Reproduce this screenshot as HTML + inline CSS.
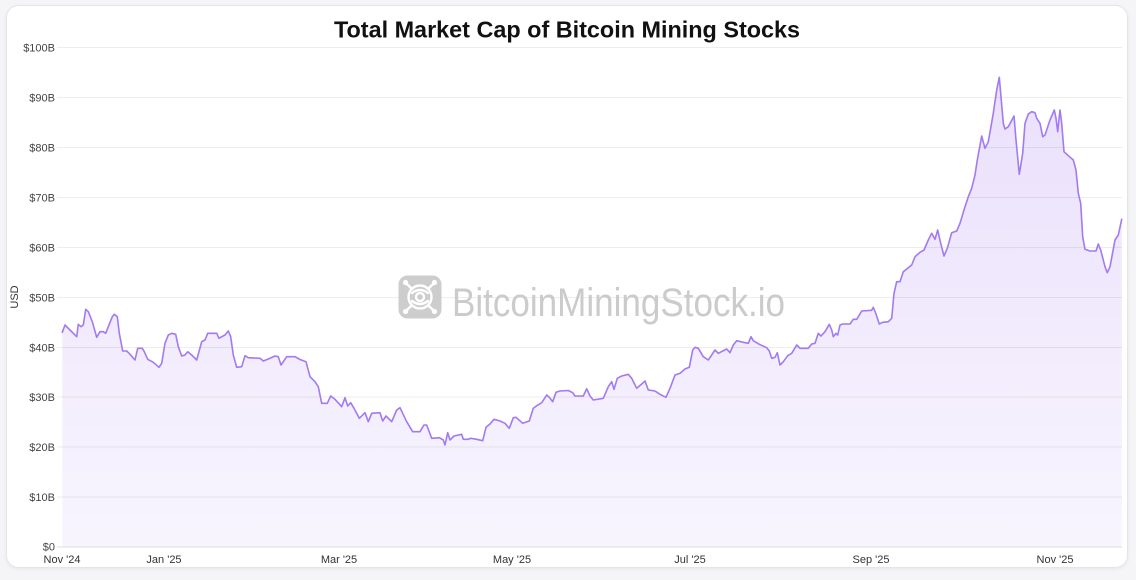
<!DOCTYPE html>
<html><head><meta charset="utf-8"><style>
html,body{margin:0;padding:0;background:#f5f5f7;}
body{width:1136px;height:580px;overflow:hidden;font-family:"Liberation Sans",Arial,sans-serif;}
svg{display:block;}
</style></head><body>
<svg width="1136" height="580" viewBox="0 0 1136 580" xmlns="http://www.w3.org/2000/svg">
<defs>
<linearGradient id="g" gradientUnits="userSpaceOnUse" x1="0" y1="47" x2="0" y2="547">
<stop offset="0" stop-color="#9c6cf0" stop-opacity="0.22"/>
<stop offset="1" stop-color="#9c6cf0" stop-opacity="0.07"/>
</linearGradient>
<filter id="sh" x="-2%" y="-2%" width="104%" height="106%"><feDropShadow dx="0" dy="1" stdDeviation="1.5" flood-color="#000" flood-opacity="0.06"/></filter>
</defs>
<rect x="0" y="0" width="1136" height="580" fill="#f5f5f7"/>
<rect x="6.5" y="5.5" width="1121" height="562" rx="12" fill="#ffffff" stroke="#e4e4ea" filter="url(#sh)"/>
<text x="567" y="37.5" text-anchor="middle" font-family="Liberation Sans, Arial, sans-serif" font-weight="bold" font-size="23.4" fill="#111">Total Market Cap of Bitcoin Mining Stocks</text>

<!-- area -->
<path fill="url(#g)" stroke="none" d="M62.3,546.7 L62.3,332.3 65,325 70,330 76.7,336.7 78.3,324.3 81,326.7 83.3,325 85.7,309.3 88.3,311.7 92.3,321.7 96.7,337.3 100,331.7 103.3,331.7 105.7,333.3 108.3,326.7 112.3,316.7 114.3,314.3 117.3,316.7 119.3,333.3 122.7,351 126.7,351 130,354.3 135,360 137.7,348.3 142.3,348.3 144.3,351.7 147.7,359.3 153.3,362.3 159,367.3 161.7,363.3 165,343.3 168.3,335 171.7,333.3 175.7,334.3 178.3,346.7 181.7,356 185,355 187.7,351.7 191.7,355 196.7,360 201.7,341.7 205,340 207.7,333.3 216.7,333.3 219,338.3 221.7,336.7 225,335 228.3,331 230.7,336.7 233.3,355 236.7,367.3 241.7,366.7 245,355.7 248.3,357.7 260,358.3 263.3,361 268.3,359 275,356 278.3,356.7 281,365 286.7,356.7 295,356.7 300,359.5 306,361.7 310,376.7 315,381.7 318.3,386.7 321.7,403.3 327.3,403.3 330.7,396 335,399.3 341.7,406.7 345,397.7 347.7,406 350.7,402.7 354,408.3 359.3,418.3 365,412.7 368.3,421.7 371.7,413.3 380,412.7 382.7,421 386,416 391.7,421.7 396.7,410 400,407.7 406.7,421.7 412.7,431.7 420,431.7 424,425 426.7,425 431.7,438.3 439.3,437.7 443.3,440 445,445 447.7,432.7 450,440 454,436 461.7,434.3 463.3,439.3 468.3,439.3 470.7,438.3 476.7,439.3 482.7,440.7 486,427.3 490,424 494,419.3 500,421 505,423.3 509.3,428.3 513.3,417.7 516,417.3 522.7,423.3 529.3,421 533.3,408.3 536.7,405.7 541.7,402.7 546.7,395 549.3,397.3 552.7,401.7 556,392.3 560,391 568.3,390.5 572.7,392.7 575,396 583.3,396 586.7,388.7 590,396 593.3,400 603.3,398.3 608.3,386.7 611.7,381.7 614,389.3 617.3,378.3 621.7,376 628.3,374.3 631.7,378.3 636.7,388.3 641.7,384 645,381 648.3,390 655,391 660,394.3 666,397.3 670,388.3 675,375 680,373.3 685,369 689.3,367.3 692.7,350 695,347.3 698.3,348.3 703.3,356.7 708.3,360 711.7,355 715,350 718.3,353.3 726.7,349 730,352.7 733.3,345 736.7,340.7 743.3,342.3 748.3,343.3 751,336.7 753.3,340.7 759.3,344.3 766.7,347.7 769.3,351 771.7,358.3 775,357.3 777.3,352.7 780,365 783.3,361.7 787.7,355.7 791.7,353.3 796.7,345 800,348.3 808.3,348.3 811.7,344 815,343.3 818.3,333.3 821,336 825,331.7 829.3,324.3 831.7,330 833.3,336.7 836,333.3 837.7,335 840,325 842.7,324 850,324 853.3,319.3 856.7,319.3 861.7,311 871.7,310.3 873.3,307.3 876,314 879.3,324 882.7,322.3 888.3,321.7 891.7,318.3 894,293.3 896.7,281.7 900,281.7 903.3,271.7 906.7,269 911.7,265 915,256.7 920,252.3 924,250 928.3,240 931.7,233.3 935,239.3 937.7,230 940.7,243.3 944,256 947.3,248.3 951.7,232.7 956.7,231 960,223.3 965,206.7 968.3,196.7 971.7,188.3 975,175 977.3,160 981.7,136 985,148.3 988.3,141.7 993.3,113.3 996.7,90 999.3,77.3 1000.7,93.3 1003.3,123.3 1005,129 1008.3,126.7 1014,116 1016,140 1019.3,174.3 1022.7,153.3 1025,123.3 1028.3,114 1031.7,111.7 1035,112.7 1036.7,118.3 1040,123.3 1042.7,136.7 1045,135 1050,120 1054.3,110 1056,118.3 1057.7,131.7 1060,110 1061.7,123.3 1064,151.7 1068.3,155.7 1073.3,160 1076,170 1078.3,193.3 1080.7,203.3 1082.7,236.7 1085,249.3 1090,251 1096,251 1098.3,244 1100.7,250 1105,266.7 1107.3,272.7 1110,266.7 1115,240 1118.3,235 1121.7,219.3 L1121.7,546.7 Z"/>

<!-- gridlines -->
<g stroke="#000" stroke-opacity="0.07" stroke-width="1">
<line x1="57" x2="1122" y1="47.5" y2="47.5"/>
<line x1="57" x2="1122" y1="97.5" y2="97.5"/>
<line x1="57" x2="1122" y1="147.5" y2="147.5"/>
<line x1="57" x2="1122" y1="197.5" y2="197.5"/>
<line x1="57" x2="1122" y1="247.5" y2="247.5"/>
<line x1="57" x2="1122" y1="297.5" y2="297.5"/>
<line x1="57" x2="1122" y1="347.5" y2="347.5"/>
<line x1="57" x2="1122" y1="397" y2="397"/>
<line x1="57" x2="1122" y1="447" y2="447"/>
<line x1="57" x2="1122" y1="497" y2="497"/>
</g>
<line x1="57" x2="1122" y1="547" y2="547" stroke="#dcdce2" stroke-width="1"/>

<!-- watermark -->
<g>
<rect x="398.5" y="275.5" width="43" height="43" rx="9" fill="#cdcdcd"/>
<g stroke="#ffffff" stroke-width="2.4" fill="none" stroke-linecap="round">
<circle cx="420" cy="297" r="11.5"/>
<path d="M412,293 Q420,287 428,293"/>
<path d="M412,301 Q420,307 428,301"/>
<circle cx="420" cy="297" r="4"/>
<line x1="406" y1="283" x2="412" y2="289"/>
<line x1="434" y1="283" x2="428" y2="289"/>
<line x1="406" y1="311" x2="412" y2="305"/>
<line x1="434" y1="311" x2="428" y2="305"/>
</g>
<g fill="#ffffff">
<circle cx="405.5" cy="282.5" r="2.6"/>
<circle cx="434.5" cy="282.5" r="2.6"/>
<circle cx="405.5" cy="311.5" r="2.6"/>
<circle cx="434.5" cy="311.5" r="2.6"/>
</g>
<text x="452" y="316" font-family="Liberation Sans, Arial, sans-serif" font-size="40" fill="#cbcbcb" textLength="333" lengthAdjust="spacingAndGlyphs">BitcoinMiningStock.io</text>
</g>

<!-- line -->
<polyline fill="none" stroke="#a27af1" stroke-width="1.6" stroke-linejoin="round" stroke-linecap="round" points="62.3,332.3 65,325 70,330 76.7,336.7 78.3,324.3 81,326.7 83.3,325 85.7,309.3 88.3,311.7 92.3,321.7 96.7,337.3 100,331.7 103.3,331.7 105.7,333.3 108.3,326.7 112.3,316.7 114.3,314.3 117.3,316.7 119.3,333.3 122.7,351 126.7,351 130,354.3 135,360 137.7,348.3 142.3,348.3 144.3,351.7 147.7,359.3 153.3,362.3 159,367.3 161.7,363.3 165,343.3 168.3,335 171.7,333.3 175.7,334.3 178.3,346.7 181.7,356 185,355 187.7,351.7 191.7,355 196.7,360 201.7,341.7 205,340 207.7,333.3 216.7,333.3 219,338.3 221.7,336.7 225,335 228.3,331 230.7,336.7 233.3,355 236.7,367.3 241.7,366.7 245,355.7 248.3,357.7 260,358.3 263.3,361 268.3,359 275,356 278.3,356.7 281,365 286.7,356.7 295,356.7 300,359.5 306,361.7 310,376.7 315,381.7 318.3,386.7 321.7,403.3 327.3,403.3 330.7,396 335,399.3 341.7,406.7 345,397.7 347.7,406 350.7,402.7 354,408.3 359.3,418.3 365,412.7 368.3,421.7 371.7,413.3 380,412.7 382.7,421 386,416 391.7,421.7 396.7,410 400,407.7 406.7,421.7 412.7,431.7 420,431.7 424,425 426.7,425 431.7,438.3 439.3,437.7 443.3,440 445,445 447.7,432.7 450,440 454,436 461.7,434.3 463.3,439.3 468.3,439.3 470.7,438.3 476.7,439.3 482.7,440.7 486,427.3 490,424 494,419.3 500,421 505,423.3 509.3,428.3 513.3,417.7 516,417.3 522.7,423.3 529.3,421 533.3,408.3 536.7,405.7 541.7,402.7 546.7,395 549.3,397.3 552.7,401.7 556,392.3 560,391 568.3,390.5 572.7,392.7 575,396 583.3,396 586.7,388.7 590,396 593.3,400 603.3,398.3 608.3,386.7 611.7,381.7 614,389.3 617.3,378.3 621.7,376 628.3,374.3 631.7,378.3 636.7,388.3 641.7,384 645,381 648.3,390 655,391 660,394.3 666,397.3 670,388.3 675,375 680,373.3 685,369 689.3,367.3 692.7,350 695,347.3 698.3,348.3 703.3,356.7 708.3,360 711.7,355 715,350 718.3,353.3 726.7,349 730,352.7 733.3,345 736.7,340.7 743.3,342.3 748.3,343.3 751,336.7 753.3,340.7 759.3,344.3 766.7,347.7 769.3,351 771.7,358.3 775,357.3 777.3,352.7 780,365 783.3,361.7 787.7,355.7 791.7,353.3 796.7,345 800,348.3 808.3,348.3 811.7,344 815,343.3 818.3,333.3 821,336 825,331.7 829.3,324.3 831.7,330 833.3,336.7 836,333.3 837.7,335 840,325 842.7,324 850,324 853.3,319.3 856.7,319.3 861.7,311 871.7,310.3 873.3,307.3 876,314 879.3,324 882.7,322.3 888.3,321.7 891.7,318.3 894,293.3 896.7,281.7 900,281.7 903.3,271.7 906.7,269 911.7,265 915,256.7 920,252.3 924,250 928.3,240 931.7,233.3 935,239.3 937.7,230 940.7,243.3 944,256 947.3,248.3 951.7,232.7 956.7,231 960,223.3 965,206.7 968.3,196.7 971.7,188.3 975,175 977.3,160 981.7,136 985,148.3 988.3,141.7 993.3,113.3 996.7,90 999.3,77.3 1000.7,93.3 1003.3,123.3 1005,129 1008.3,126.7 1014,116 1016,140 1019.3,174.3 1022.7,153.3 1025,123.3 1028.3,114 1031.7,111.7 1035,112.7 1036.7,118.3 1040,123.3 1042.7,136.7 1045,135 1050,120 1054.3,110 1056,118.3 1057.7,131.7 1060,110 1061.7,123.3 1064,151.7 1068.3,155.7 1073.3,160 1076,170 1078.3,193.3 1080.7,203.3 1082.7,236.7 1085,249.3 1090,251 1096,251 1098.3,244 1100.7,250 1105,266.7 1107.3,272.7 1110,266.7 1115,240 1118.3,235 1121.7,219.3"/>

<!-- y labels -->
<g font-family="Liberation Sans, Arial, sans-serif" font-size="11" fill="#444" text-anchor="end">
<text x="55" y="51.5">$100B</text>
<text x="55" y="101.5">$90B</text>
<text x="55" y="151.5">$80B</text>
<text x="55" y="201.5">$70B</text>
<text x="55" y="251.5">$60B</text>
<text x="55" y="301.5">$50B</text>
<text x="55" y="351.5">$40B</text>
<text x="55" y="401">$30B</text>
<text x="55" y="451">$20B</text>
<text x="55" y="501">$10B</text>
<text x="55" y="550.5">$0</text>
</g>
<text transform="translate(18,297) rotate(-90)" text-anchor="middle" font-family="Liberation Sans, Arial, sans-serif" font-size="11" fill="#333">USD</text>

<!-- x labels -->
<g font-family="Liberation Sans, Arial, sans-serif" font-size="11" fill="#333" text-anchor="middle">
<text x="62" y="563">Nov '24</text>
<text x="164" y="563">Jan '25</text>
<text x="339" y="563">Mar '25</text>
<text x="512" y="563">May '25</text>
<text x="690" y="563">Jul '25</text>
<text x="871" y="563">Sep '25</text>
<text x="1055" y="563">Nov '25</text>
</g>
</svg>
</body></html>
